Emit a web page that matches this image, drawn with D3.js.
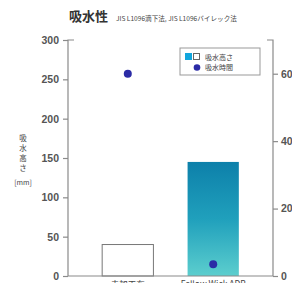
<!DOCTYPE html>
<html>
<head>
<meta charset="utf-8">
<script src="https://cdn.jsdelivr.net/npm/d3@7"></script>
<style>
  body { margin: 0; background: #fff; }
  text { font-family: "Noto Sans CJK JP", "Noto Sans", sans-serif; }
</style>
</head>
<body>
<div id="chart"></div>
<script>
// data
var categories = ['未加工布', 'Fellow Wick ADP'];
var heightValues = [40, 145];      // 吸水高さ [mm], left axis
var timeValues = [60, 3.5];        // 吸水時間, right axis
var leftTicks = [0, 50, 100, 150, 200, 250, 300];
var rightTicks = [0, 20, 40, 60];

var width = 292, height = 283;
var margin = { top: 40, right: 19, bottom: 7, left: 68 };

var svg = d3.select('#chart').append('svg')
  .attr('width', width)
  .attr('height', height);

var x = d3.scaleBand()
  .domain(categories)
  .range([margin.left, width - margin.right])
  .padding(0.4);

var yLeft = d3.scaleLinear().domain([0, 300]).range([height - margin.bottom, margin.top]);
var yRight = d3.scaleLinear().domain([0, 70]).range([height - margin.bottom, margin.top]);

var defs = svg.append('defs');
var grad = defs.append('linearGradient')
  .attr('id', 'barGrad')
  .attr('x1', 0).attr('y1', 0).attr('x2', 0).attr('y2', 1);
grad.append('stop').attr('offset', '0%').attr('stop-color', '#0d80aa');
grad.append('stop').attr('offset', '50%').attr('stop-color', '#20a0bc');
grad.append('stop').attr('offset', '100%').attr('stop-color', '#5ccece');

var axisColor = '#8a8a8a';
var x0 = margin.left, x1 = width - margin.right;
var yBase = yLeft(0), yTop = yLeft(300);

// bars
svg.selectAll('rect.bar')
  .data(heightValues)
  .enter().append('rect')
  .attr('class', 'bar')
  .attr('x', function (d, i) { return x(categories[i]); })
  .attr('y', function (d) { return yLeft(d); })
  .attr('width', x.bandwidth())
  .attr('height', function (d) { return yBase - yLeft(d); })
  .attr('fill', function (d, i) { return i === 0 ? '#fff' : 'url(#barGrad)'; })
  .attr('stroke', function (d, i) { return i === 0 ? '#777' : 'none'; })
  .attr('stroke-width', 1);

// dots
svg.selectAll('circle.dot')
  .data(timeValues)
  .enter().append('circle')
  .attr('class', 'dot')
  .attr('cx', function (d, i) { return x(categories[i]) + x.bandwidth() / 2; })
  .attr('cy', function (d) { return yRight(d); })
  .attr('r', 4)
  .attr('fill', '#2b2ba6');

// frame
var frame = svg.append('g').attr('stroke', axisColor).attr('stroke-width', 1.2).attr('fill', 'none');
frame.append('path').attr('d', 'M' + (x0 + 6) + ',' + yTop + 'H' + x0 + 'V' + yBase + 'H' + x1 + 'V' + yTop + 'H' + (x1 - 6));

// left axis
var gl = svg.append('g').attr('transform', 'translate(' + x0 + ',0)')
  .call(d3.axisLeft(yLeft).tickValues(leftTicks).tickSize(5).tickPadding(4));
gl.select('.domain').remove();
gl.selectAll('line').attr('stroke', axisColor).attr('stroke-width', 1.2);
gl.selectAll('text').attr('fill', '#555').attr('font-size', 10.5).attr('font-weight', 'bold')
  .style('font-family', 'Liberation Sans, Arial, sans-serif');

// right axis
var gr = svg.append('g').attr('transform', 'translate(' + x1 + ',0)')
  .call(d3.axisRight(yRight).tickValues(rightTicks).tickSize(5).tickPadding(3));
gr.select('.domain').remove();
gr.selectAll('line').attr('stroke', axisColor).attr('stroke-width', 1.2);
gr.selectAll('text').attr('fill', '#555').attr('font-size', 10.5).attr('font-weight', 'bold')
  .style('font-family', 'Liberation Sans, Arial, sans-serif');

// x labels (cut off at the bottom)
svg.selectAll('text.xl')
  .data(categories)
  .enter().append('text')
  .attr('class', 'xl')
  .attr('x', function (d) { return x(d) + x.bandwidth() / 2; })
  .attr('y', 287)
  .attr('text-anchor', 'middle')
  .attr('font-size', 8.5)
  .attr('fill', '#444')
  .text(function (d) { return d; });

// title
svg.append('text')
  .attr('x', 69).attr('y', 21)
  .attr('font-size', 13).attr('font-weight', 'bold').attr('fill', '#333')
  .text('吸水性');
svg.append('text')
  .attr('x', 116).attr('y', 21)
  .attr('font-size', 6.6).attr('fill', '#444')
  .text('JIS L1096滴下法, JIS L1096バイレック法');

// y title (vertical stacked)
var yTitle = ['吸', '水', '高', 'さ'];
svg.selectAll('text.yt')
  .data(yTitle)
  .enter().append('text')
  .attr('class', 'yt')
  .attr('x', 23)
  .attr('y', function (d, i) { return 141 + i * 10; })
  .attr('text-anchor', 'middle')
  .attr('font-size', 7.5).attr('fill', '#444')
  .text(function (d) { return d; });
svg.append('text')
  .attr('x', 23).attr('y', 185)
  .attr('text-anchor', 'middle')
  .attr('font-size', 7).attr('fill', '#444')
  .text('[mm]');

// legend
var lg = svg.append('g').attr('transform', 'translate(180,48)');
lg.append('rect').attr('width', 80).attr('height', 27)
  .attr('fill', '#fff').attr('stroke', '#999').attr('stroke-width', 1);
lg.append('rect').attr('x', 5).attr('y', 5).attr('width', 7).attr('height', 7).attr('fill', '#12a6dd');
lg.append('rect').attr('x', 13.5).attr('y', 5.5).attr('width', 6).attr('height', 6)
  .attr('fill', '#fff').attr('stroke', '#666').attr('stroke-width', 1);
lg.append('circle').attr('cx', 17).attr('cy', 19.5).attr('r', 3.3).attr('fill', '#2b2ba6');
lg.append('text').attr('x', 25).attr('y', 11.5).attr('font-size', 7).attr('fill', '#444').text('吸水高さ');
lg.append('text').attr('x', 25).attr('y', 22).attr('font-size', 7).attr('fill', '#444').text('吸水時間');
</script>
</body>
</html>
